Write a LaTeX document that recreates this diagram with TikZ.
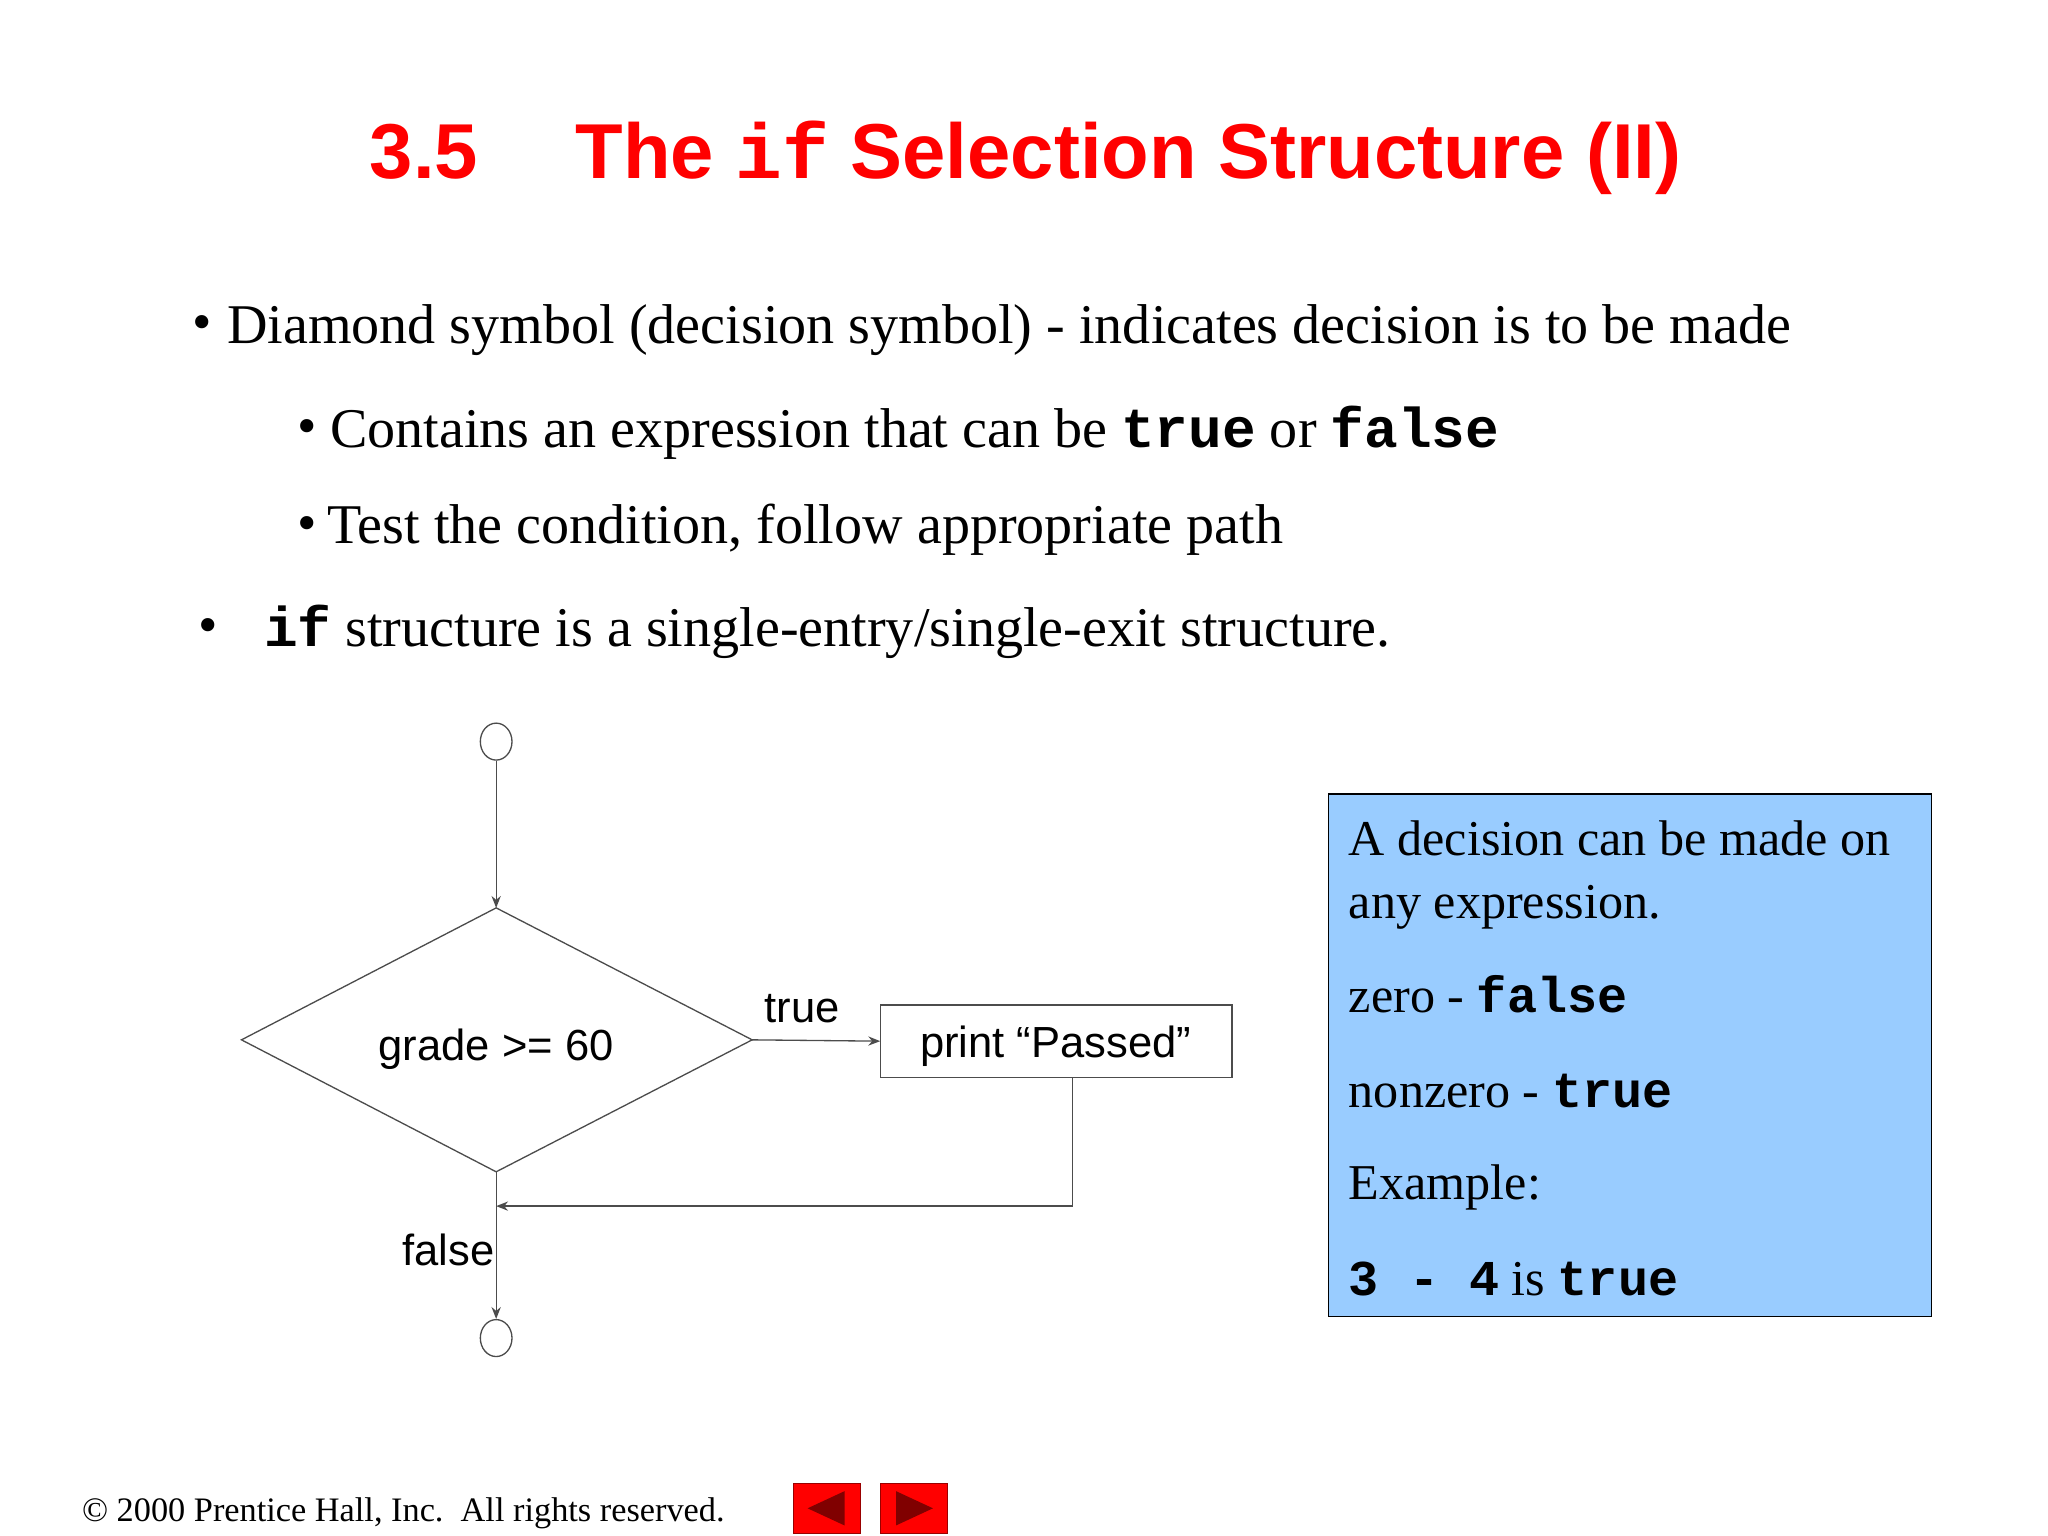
\documentclass[tikz,border=0pt]{standalone}
\usepackage{fontspec}
\setmainfont{Liberation Serif}
\setsansfont{Liberation Sans}
\setmonofont{Liberation Mono}
\newfontfamily\flow{Liberation Sans}
\usetikzlibrary{arrows.meta,shapes.geometric}
\definecolor{titlered}{RGB}{255,0,0}
\definecolor{noteblue}{RGB}{153,204,255}
\begin{document}
\begin{tikzpicture}[x=1pt,y=-1pt,
  body/.style={anchor=base west,inner sep=0,font=\fontsize{42.5}{46}\selectfont},
  bul/.style={anchor=base west,inner sep=0,font=\fontsize{42}{46}\selectfont},
  flowtxt/.style={inner sep=0,font=\flow\fontsize{33}{36}\selectfont},
  conn/.style={draw=black!70,line width=1pt},
  arr/.style={conn,-{Stealth[length=9pt,width=7pt]}},
  term/.style={draw=black!70,line width=1pt,ellipse,minimum width=24pt,minimum height=28pt,inner sep=0}]
\useasboundingbox (0,0) rectangle (1552,1164);
\node[anchor=base west,inner sep=0,text=titlered,font=\sffamily\bfseries\fontsize{59}{64}\selectfont] (t1) at (280,135) {3.5};
\node[anchor=base west,inner sep=0,text=titlered,font=\sffamily\bfseries\fontsize{59}{64}\selectfont] (t2) at (436,135) {The \texttt{if} Selection Structure (II)};
\node[bul] (b1d) at (146,258) {•};
\node[body] (b1) at (172,260) {Diamond symbol (decision symbol) - indicates decision is to be made};
\node[bul] (b2d) at (225,337) {•};
\node[body] (b2) at (250,339) {Contains an expression that can be \textbf{\texttt{true}} or \textbf{\texttt{false}}};
\node[bul] (b3d) at (225,410) {•};
\node[body] (b3) at (248,412) {Test the condition, follow appropriate path};
\node[bul] (b4d) at (150,488) {•};
\node[body] (b4) at (200,490) {\textbf{\texttt{if}} structure is a single-entry/single-exit structure.};
% flowchart
\node[term] (start) at (376,562) {};
\coordinate (dt) at (376,688);
\coordinate (dl) at (183,788);
\coordinate (dr) at (570,788);
\coordinate (db) at (376,888);
\draw[conn] (dt) -- (dr) -- (db) -- (dl) -- cycle;
\node[flowtxt] (cond) at (376,795) {grade >= 60};
\draw[arr] (start) -- (dt);
\node[draw=black!70,line width=1pt,minimum width=266pt,minimum height=55pt,inner sep=0,anchor=north west] (box) at (667,761) {};
\node[flowtxt] (boxt) at (800,793) {print “Passed”};
\draw[arr] (dr) -- (box.west);
\node[flowtxt] (tl) at (608,764) {true};
\node[term] (end) at (376,1014) {};
\coordinate (bj) at (813,914);
\coordinate (mj) at (376,914);
\draw[conn] (box.south -| bj) -- (bj);
\draw[arr] (bj) -- (mj);
\draw[arr] (db) -- (end);
\node[flowtxt] (fl) at (340,947) {false};
% note
\node[draw=black,line width=1.2pt,fill=noteblue,minimum width=457pt,minimum height=396pt,inner sep=0,anchor=north west] (note) at (1006,601) {};
\node[body,font=\fontsize{38}{42}\selectfont] (n1) at (1022,648) {A decision can be made on};
\node[body,font=\fontsize{38}{42}\selectfont] (n2) at (1022,696) {any expression.};
\node[body,font=\fontsize{38}{42}\selectfont] (n3) at (1022,767) {zero - \textbf{\texttt{false}}};
\node[body,font=\fontsize{38}{42}\selectfont] (n4) at (1022,839) {nonzero - \textbf{\texttt{true}}};
\node[body,font=\fontsize{38}{42}\selectfont] (n5) at (1022,909) {Example:};
\node[body,font=\fontsize{38}{42}\selectfont] (n6) at (1022,982) {\textbf{\texttt{3 - 4}} is \textbf{\texttt{true}}};
% footer
\node[anchor=base west,inner sep=0,font=\fontsize{26}{28}\selectfont] (ft) at (62,1153) {© 2000 Prentice Hall, Inc.\ \ All rights reserved.};
\node[fill=red,draw=red!60!black,minimum width=51pt,minimum height=38pt,inner sep=0,anchor=north west] (bl) at (601,1124) {};
\node[fill=red,draw=red!60!black,minimum width=51pt,minimum height=38pt,inner sep=0,anchor=north west] (br) at (667,1124) {};
\fill[red!50!black] (612,1143) -- (640,1130) -- (640,1156) -- cycle;
\fill[red!50!black] (707,1143) -- (679,1130) -- (679,1156) -- cycle;
\end{tikzpicture}
\end{document}
